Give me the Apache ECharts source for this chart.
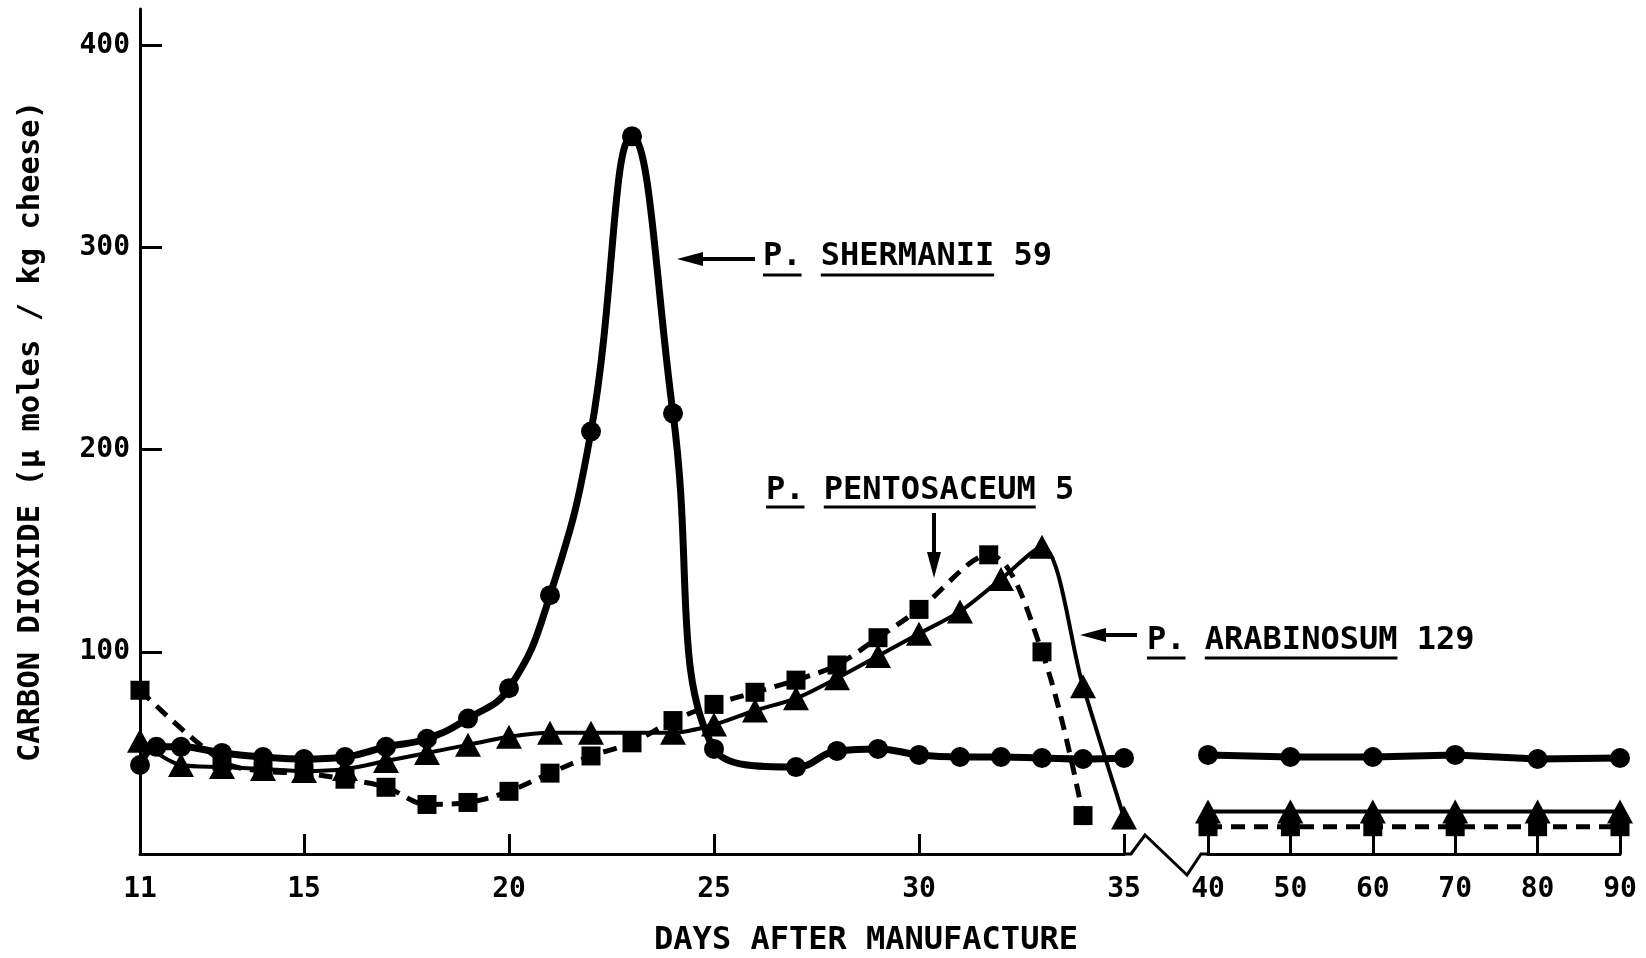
<!DOCTYPE html>
<html>
<head>
<meta charset="utf-8">
<title>Carbon dioxide production in Swiss-type cheese</title>
<script src="https://cdn.jsdelivr.net/npm/echarts@6/dist/echarts.min.js"></script>
<style>
  html, body { margin: 0; padding: 0; background: #fff; }
  #chart { width: 1646px; height: 958px; }
</style>
</head>
<body>
<div id="chart"></div>
<script>
// Axis ticks: early period (days 11-35) and late period (days 40-90)
const earlyTicks = [15, 20, 25, 30, 35];
const earlyLabels = [11, 15, 20, 25, 30, 35];
const lateTicks = [40, 50, 60, 70, 80, 90];
const valueTicks = [100, 200, 300, 400];

// P. shermanii 59 (circles, heavy solid line)
const shermaniiDays = [11, 11.4, 12, 13, 14, 15, 16, 17, 18, 19, 20, 21, 22, 23, 24, 25, 27, 28, 29, 30, 31, 32, 33, 34, 35];
const shermaniiCO2 = [44, 53, 53, 50, 48, 47, 48, 53, 57, 67, 82, 128, 209, 355, 218, 52, 43, 51, 52, 49, 48, 48, 47.5, 47, 47.5];
const shermaniiLateDays = [40, 50, 60, 70, 80, 90];
const shermaniiLateCO2 = [49, 48, 48, 49, 47, 47.5];

// P. arabinosum 129 (triangles, solid line)
const arabinosumDays = [11, 12, 13, 14, 15, 16, 17, 18, 19, 20, 21, 22, 24, 25, 26, 27, 28, 29, 30, 31, 32, 33, 34, 35];
const arabinosumCO2 = [56, 44, 43, 42, 41, 42, 46, 50, 54, 58, 60, 60, 60, 64, 71, 77, 87, 98, 109, 120, 136, 152, 83, 18];
const arabinosumLateDays = [40, 50, 60, 70, 80, 90];
const arabinosumLateCO2 = [21, 21, 21, 21, 21, 21];

// P. pentosaceum 5 (squares, dashed line)
const pentosaceumDays = [11, 13, 14, 15, 16, 17, 18, 19, 20, 21, 22, 23, 24, 25, 26, 27, 28, 29, 30, 31.7, 33, 34];
const pentosaceumCO2 = [81, 46, 41, 40, 37, 33, 24.5, 25.5, 31, 40, 48.5, 55, 66, 74, 80, 86, 93.5, 107, 121, 148, 100, 19];
const pentosaceumLateDays = [40, 50, 60, 70, 80, 90];
const pentosaceumLateCO2 = [13.5, 13.5, 13.5, 13.5, 13.5, 13.5];

const FONT = '"DejaVu Sans Mono", "Liberation Mono", monospace';
const INK = '#000';

// Page layout (pixels)
const L1 = 140, R1 = 1124, L2 = 1208, R2 = 1620, TOP = 9, BASE = 854;

const pairs = (xs, ys) => xs.map((x, i) => [x, ys[i]]);

function xAxisFor(grid, min, max, ticks, labels) {
  return {
    type: 'value', gridIndex: grid, min: min, max: max,
    axisLine: { show: true, onZero: false, lineStyle: { color: INK, width: 3 } },
    axisTick: { show: true, inside: true, length: 20, customValues: ticks, lineStyle: { color: INK, width: 3 } },
    axisLabel: { show: true, customValues: labels, margin: 22, color: INK, fontFamily: FONT, fontWeight: 'bold', fontSize: 28 },
    splitLine: { show: false }
  };
}

function yAxisFor(grid, visible) {
  const ax = {
    type: 'value', gridIndex: grid, min: 0, max: 418, show: visible,
    axisLine: { show: true, lineStyle: { color: INK, width: 3 } },
    axisTick: { show: true, inside: true, length: 22, customValues: valueTicks, lineStyle: { color: INK, width: 3 } },
    axisLabel: { show: true, customValues: valueTicks, margin: 10, color: INK, fontFamily: FONT, fontWeight: 'bold', fontSize: 28 },
    splitLine: { show: false }
  };
  if (visible) {
    ax.name = 'CARBON DIOXIDE (\u03bc moles / kg cheese)';
    ax.nameLocation = 'middle';
    ax.nameRotate = 90;
    ax.nameGap = 93;
    ax.nameTextStyle = { color: INK, fontFamily: FONT, fontWeight: 'bold', fontSize: 30.5 };
  }
  return ax;
}

function lineSeries(grid, data, symbol, size, style, smooth) {
  return {
    type: 'line', xAxisIndex: grid, yAxisIndex: grid, data: data,
    symbol: symbol, symbolSize: size, smooth: smooth, clip: false,
    itemStyle: { color: INK, borderWidth: 0 },
    lineStyle: Object.assign({ color: INK }, style),
    emphasis: { disabled: true }
  };
}

const circleLine = { width: 7 };
const triangleLine = { width: 4 };
const squareLine = { width: 5, type: [14, 9] };

// Arrow from tail (x1,y1) to tip (x2,y2)
function arrow(x1, y1, x2, y2) {
  const len = Math.hypot(x2 - x1, y2 - y1), ux = (x2 - x1) / len, uy = (y2 - y1) / len;
  const hl = 26, hw = 7;
  const bx = x2 - ux * hl, by = y2 - uy * hl;
  return {
    type: 'group', children: [
      { type: 'line', shape: { x1: x1, y1: y1, x2: bx, y2: by }, style: { stroke: INK, lineWidth: 4 } },
      { type: 'polygon', shape: { points: [[x2, y2], [bx - uy * hw, by + ux * hw], [bx + uy * hw, by - ux * hw]] }, style: { fill: INK } }
    ]
  };
}

// Label with underlined segments: parts = [[text, underlined], ...]
function label(left, midY, lineY, parts, fontSize) {
  const adv = fontSize * 0.602;
  const text = parts.map(p => p[0]).join(' ');
  const children = [{
    type: 'text', x: left, y: midY,
    style: { text: text, fill: INK, font: 'bold ' + fontSize + 'px ' + FONT, align: 'left', verticalAlign: 'middle', textAlign: 'left', textVerticalAlign: 'middle' }
  }];
  let pos = 0;
  parts.forEach(p => {
    if (p[1]) {
      children.push({ type: 'line', shape: { x1: left + pos * adv, y1: lineY, x2: left + (pos + p[0].length) * adv, y2: lineY }, style: { stroke: INK, lineWidth: 3 } });
    }
    pos += p[0].length + 1;
  });
  return { type: 'group', children: children };
}

const chart = echarts.init(document.getElementById('chart'), null, { renderer: 'canvas' });

chart.setOption({
  animation: false,
  backgroundColor: '#fff',
  grid: [
    { left: L1, top: TOP, width: R1 - L1, height: BASE - TOP },
    { left: L2, top: TOP, width: R2 - L2, height: BASE - TOP }
  ],
  xAxis: [
    xAxisFor(0, 11, 35, earlyTicks, earlyLabels),
    xAxisFor(1, 40, 90, lateTicks, lateTicks)
  ],
  yAxis: [yAxisFor(0, true), yAxisFor(1, false)],
  series: [
    lineSeries(0, pairs(pentosaceumDays, pentosaceumCO2), 'rect', 19, squareLine, 0.35),
    lineSeries(0, pairs(arabinosumDays, arabinosumCO2), 'triangle', [26, 24], triangleLine, 0.3),
    lineSeries(0, pairs(shermaniiDays, shermaniiCO2), 'circle', 20, circleLine, 0.45),
    lineSeries(1, pairs(pentosaceumLateDays, pentosaceumLateCO2), 'rect', 19, squareLine, false),
    lineSeries(1, pairs(arabinosumLateDays, arabinosumLateCO2), 'triangle', [26, 24], triangleLine, false),
    lineSeries(1, pairs(shermaniiLateDays, shermaniiLateCO2), 'circle', 20, circleLine, false)
  ],
  graphic: [
    // broken time axis between day 35 and day 40
    { type: 'polyline', shape: { points: [[R1, BASE], [R1 + 7, BASE], [R1 + 21, BASE - 19], [L2 - 21, BASE + 21], [L2 - 7, BASE], [L2, BASE]] }, style: { stroke: INK, lineWidth: 3, fill: null } },
    arrow(755, 259, 677, 259),
    label(763, 257, 275, [['P.', true], ['SHERMANII', true], ['59', false]], 32),
    label(766, 491, 507, [['P.', true], ['PENTOSACEUM', true], ['5', false]], 32),
    arrow(934, 513, 934, 578),
    arrow(1137, 635, 1080, 635),
    label(1147, 641, 658, [['P.', true], ['ARABINOSUM', true], ['129', false]], 32),
    { type: 'text', x: 866, y: 941, style: { text: 'DAYS AFTER MANUFACTURE', fill: INK, font: 'bold 32px ' + FONT, align: 'center', verticalAlign: 'middle', textAlign: 'center', textVerticalAlign: 'middle' } }
  ]
});
</script>
</body>
</html>
